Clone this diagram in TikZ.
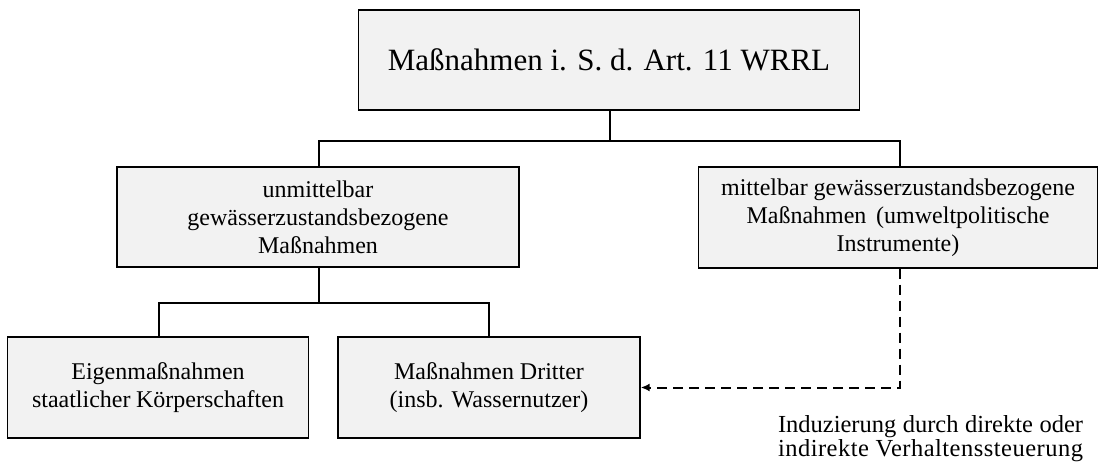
\documentclass[tikz,border=0pt]{standalone}
\usepackage{fontspec}
\setmainfont{Liberation Serif}
\newfontfamily\spacedfont[LetterSpace=2]{Liberation Serif}
\usetikzlibrary{arrows.meta}
% a line of text spread to a given width
\newcommand{\spreadline}[2]{\makebox[#1][s]{#2}}
\begin{document}
\begin{tikzpicture}[x=1pt,y=-1pt,
  box/.style={draw=black, line width=1.4pt, fill=black!5, inner sep=0pt,
    align=center, font=\fontsize{24}{28}\selectfont},
  conn/.style={line width=2pt, line cap=rect},
  link/.style={line width=2pt, dash pattern=on 10pt off 6pt,
    -{Latex[length=9pt,width=8pt]}}]
\useasboundingbox (0,0) rectangle (1099,462);

% hierarchy boxes
\node[box, minimum width=501pt, minimum height=100pt,
  font=\fontsize{31}{36}\selectfont] (top) at (609,60)
  {Maßnahmen i. S. d. Art. 11 WRRL};
\node[box, minimum width=402pt, minimum height=100pt] (ml) at (318,217)
  {unmittelbar\\gewässerzustandsbezogene\\Maßnahmen};
\node[box, minimum width=399pt, minimum height=101pt] (mr) at (898,217.5)
  {mittelbar gewässerzustandsbezogene\\\spreadline{303pt}{Maßnahmen (umweltpolitische}\\Instrumente)};
\node[box, minimum width=301pt, minimum height=101pt] (bl) at (158,387.5)
  {Eigenmaßnahmen\\\spreadline{252pt}{staatlicher Körperschaften}};
\node[box, minimum width=302pt, minimum height=101pt] (br) at (489,387.5)
  {Maßnahmen Dritter\\(insb. Wassernutzer)};

% caption of the dashed link
\node[inner sep=0pt, align=center, font=\fontsize{24.5}{24}\selectfont]
  (note) at (930.5,439)
  {\spreadline{305pt}{Induzierung durch direkte oder}\\
   \spreadline{305pt}{\spacedfont indirekte Verhaltenssteuerung}};

% tree connectors
\draw[conn] ([xshift=1pt]top.south) -- ++(0,30) coordinate (j1);
\draw[conn] ([xshift=1pt]ml.north) |- (j1) -| ([xshift=2pt]mr.north);
\draw[conn] ([xshift=1pt]ml.south) -- ++(0,35) coordinate (j2);
\draw[conn] ([xshift=1pt]bl.north) |- (j2) -| (br.north);

% indirect influence
\draw[link] ([xshift=2pt]mr.south) |- (br.east);
\end{tikzpicture}
\end{document}
